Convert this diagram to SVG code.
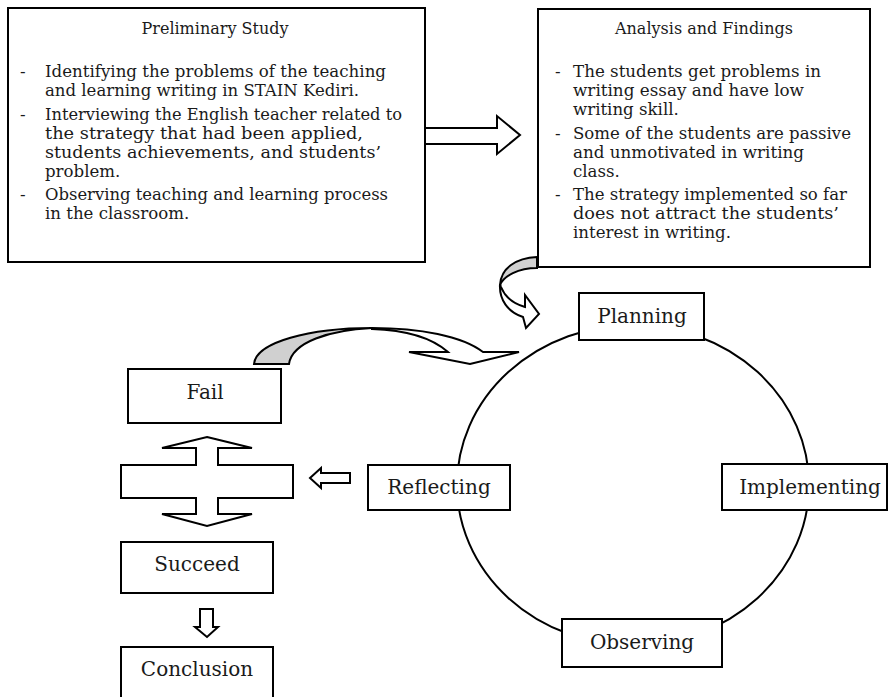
<svg xmlns="http://www.w3.org/2000/svg" width="889" height="697" viewBox="0 0 889 697">
<style>
.box{fill:#fff;stroke:#000;stroke-width:2}
.arr{fill:#fff;stroke:#000;stroke-width:2;stroke-linejoin:miter}
.shade{fill:#d0d0d0;stroke:#000;stroke-width:2}
.t{font-family:"DejaVu Serif","Liberation Serif",serif;font-size:16.6px;fill:#1a1a1a}
.h{font-family:"DejaVu Serif","Liberation Serif",serif;font-size:16px;fill:#1a1a1a;text-anchor:middle}
.n{font-family:"DejaVu Serif","Liberation Serif",serif;font-size:20px;fill:#1a1a1a;text-anchor:middle}
</style>
<rect width="889" height="697" fill="#fff"/>
<g id="connectors">
  <ellipse cx="633" cy="485" rx="176" ry="160" fill="none" stroke="#000" stroke-width="2"/>
  <polygon class="arr" points="425,128 497,128 497,116 520,135 497,154 497,144 425,144"/>
  <path class="shade" d="M537,257 C516,258 501,268 500,285 C504,276 518,268 537,268 Z"/>
  <path class="arr" d="M500,284 C499,300 508,312 523,317 L526,328 L539,314 L525,295 L525,307 C514,304 505,297 501,287 Z"/>
  <path class="shade" d="M254,364 C256,342 310,328 372,328 C330,330 292,342 289,364 Z"/>
  <path class="arr" d="M372,328 C420,328 462,336 483,352 L519,352 L470,364 L409,352 L448,352 C432,338 405,330 372,329 Z"/>
  <polygon class="arr" points="207,437 252,448 218,448 218,465 293,465 293,498 218,498 218,514 252,514 207,526 162,514 196,514 196,498 121,498 121,465 196,465 196,448 162,448"/>
  <polygon class="arr" points="310,478 321,468 321,473 350,473 350,483 321,483 321,488"/>
  <polygon class="arr" points="200,609 213,609 213,627 218,627 207,637 195,627 200,627"/>
</g>
<g id="preliminary">
  <rect class="box" x="8" y="8" width="417" height="254"/>
  <text class="h" x="215" y="34">Preliminary Study</text>
  <text class="t" x="20" y="77">-</text>
  <text class="t" x="45" y="77" textLength="341" lengthAdjust="spacingAndGlyphs">Identifying the problems of the teaching</text>
  <text class="t" x="45" y="96" textLength="314" lengthAdjust="spacingAndGlyphs">and learning writing in STAIN Kediri.</text>
  <text class="t" x="20" y="120">-</text>
  <text class="t" x="45" y="120" textLength="357" lengthAdjust="spacingAndGlyphs">Interviewing the English teacher related to</text>
  <text class="t" x="45" y="139" textLength="318" lengthAdjust="spacingAndGlyphs">the strategy that had been applied,</text>
  <text class="t" x="45" y="158" textLength="336" lengthAdjust="spacingAndGlyphs">students achievements, and students’</text>
  <text class="t" x="45" y="177">problem.</text>
  <text class="t" x="20" y="200">-</text>
  <text class="t" x="45" y="200" textLength="343" lengthAdjust="spacingAndGlyphs">Observing teaching and learning process</text>
  <text class="t" x="45" y="219">in the classroom.</text>
</g>
<g id="analysis">
  <rect class="box" x="538" y="9" width="332" height="258"/>
  <text class="h" x="704" y="34">Analysis and Findings</text>
  <text class="t" x="555" y="77">-</text>
  <text class="t" x="573" y="77" textLength="248" lengthAdjust="spacingAndGlyphs">The students get problems in</text>
  <text class="t" x="573" y="96" textLength="231" lengthAdjust="spacingAndGlyphs">writing essay and have low</text>
  <text class="t" x="573" y="115">writing skill.</text>
  <text class="t" x="555" y="139">-</text>
  <text class="t" x="573" y="139" textLength="278" lengthAdjust="spacingAndGlyphs">Some of the students are passive</text>
  <text class="t" x="573" y="158" textLength="231" lengthAdjust="spacingAndGlyphs">and unmotivated in writing</text>
  <text class="t" x="573" y="177">class.</text>
  <text class="t" x="555" y="200">-</text>
  <text class="t" x="573" y="200" textLength="274" lengthAdjust="spacingAndGlyphs">The strategy implemented so far</text>
  <text class="t" x="573" y="219" textLength="266" lengthAdjust="spacingAndGlyphs">does not attract the students’</text>
  <text class="t" x="573" y="238">interest in writing.</text>
</g>
<g id="planning">
  <rect class="box" x="579" y="293" width="125" height="47"/>
  <text class="n" x="642" y="323">Planning</text>
</g>
<g id="implementing">
  <rect class="box" x="722" y="464" width="165" height="46"/>
  <text class="n" x="810" y="494">Implementing</text>
</g>
<g id="observing">
  <rect class="box" x="562" y="619" width="160" height="48"/>
  <text class="n" x="642" y="649">Observing</text>
</g>
<g id="reflecting">
  <rect class="box" x="368" y="465" width="142" height="45"/>
  <text class="n" x="439" y="494">Reflecting</text>
</g>
<g id="fail">
  <rect class="box" x="128" y="369" width="153" height="54"/>
  <text class="n" x="205" y="399">Fail</text>
</g>
<g id="succeed">
  <rect class="box" x="121" y="542" width="152" height="51"/>
  <text class="n" x="197" y="571">Succeed</text>
</g>
<g id="conclusion">
  <rect class="box" x="121" y="647" width="152" height="60"/>
  <text class="n" x="197" y="676">Conclusion</text>
</g>
</svg>
